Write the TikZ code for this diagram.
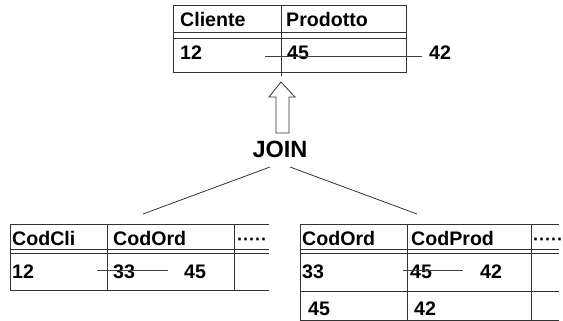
\documentclass[tikz,border=0pt]{standalone}
\usepackage{fontspec}
\setmainfont{Liberation Sans}
\begin{document}
\begin{tikzpicture}[x=1pt,y=-1pt,
  grid/.style={draw=black!80, line width=0.8pt},
  strike/.style={draw=black!75, line width=0.8pt},
  txt/.style={anchor=base west, inner sep=0pt, font=\fontsize{19.6}{19.6}\selectfont\bfseries},
  dotstxt/.style={anchor=base west, inner sep=0pt, font=\fontsize{18}{18}\selectfont\bfseries},
  jointxt/.style={anchor=base, inner sep=0pt, font=\fontsize{23.5}{23.5}\selectfont\bfseries}]
\useasboundingbox (0,0) rectangle (563,321);
% ---------- top table ----------
\draw[grid] (173,5) rectangle (406,72);
\draw[grid] (281,5) -- (281,76);
\draw[grid] (173,32.5) -- (407,32.5) (173,38.5) -- (407,38.5);
\node[txt] (cli) at (180,26.5) {Cliente};
\node[txt] (prod) at (286,26.5) {Prodotto};
\node[txt] (t12) at (180,60) {12};
\node[txt] (t45) at (287,60) {45};
\node[txt] (t42) at (429,60) {42};
\coordinate (ts1) at (265,56);
\coordinate (ts2) at (422,56);
\draw[strike] (ts1) -- (ts2);
% ---------- hollow arrow ----------
\draw[grid, fill=white] (281,82) -- (295,97) -- (289,97) -- (289,133) -- (276,133) -- (276,97) -- (269,97) -- cycle;
% ---------- JOIN ----------
\node[jointxt] (join) at (280,157.7) {JOIN};
\coordinate (jl) at (270,167);
\coordinate (jr) at (290,167);
\coordinate (lt) at (143,214);
\coordinate (rt) at (417,214);
\draw[grid] (jl) -- (lt);
\draw[grid] (jr) -- (rt);
% ---------- bottom left table ----------
\draw[grid] (269,224) -- (10,224) -- (10,290) -- (269,290);
\draw[grid] (107,224) -- (107,290) (234,224) -- (234,290);
\draw[grid] (10,249.5) -- (269,249.5) (10,253.5) -- (269,253.5);
\node[txt] (codcli) at (12,245) {CodCli};
\node[txt] (codord) at (113,245) {CodOrd};
\node[dotstxt] (ldots) at (237,245) {·····};
\node[txt] (l12) at (12,278) {12};
\node[txt] (l33) at (113,278) {33};
\node[txt] (l45) at (184,278) {45};
\coordinate (ls1) at (97,270);
\coordinate (ls2) at (168,270);
\draw[strike] (ls1) -- (ls2);
% ---------- bottom right table ----------
\draw[grid] (559,224) -- (300,224) -- (300,320) -- (559,320);
\draw[grid] (407,224) -- (407,320) (531,224) -- (531,320);
\draw[grid] (300,249.5) -- (559,249.5);
\draw[grid] (300,253.5) -- (559,253.5);
\draw[draw=black!80, line width=1.3pt] (300,253.5) -- (524,253.5);
\draw[grid] (300,291) -- (559,291);
\node[txt] (rcodord) at (302,245) {CodOrd};
\node[txt] (rcodprod) at (411,245) {CodProd};
\node[dotstxt] (rdots) at (533,245) {·····};
\node[txt] (r33) at (302,278) {33};
\node[txt] (r45) at (410,278) {45};
\node[txt] (r42) at (480,278) {42};
\coordinate (rs1) at (403,270);
\coordinate (rs2) at (463,270);
\draw[strike] (rs1) -- (rs2);
\node[txt] (r2a) at (308,315) {45};
\node[txt] (r2b) at (414,315) {42};
\end{tikzpicture}
\end{document}
